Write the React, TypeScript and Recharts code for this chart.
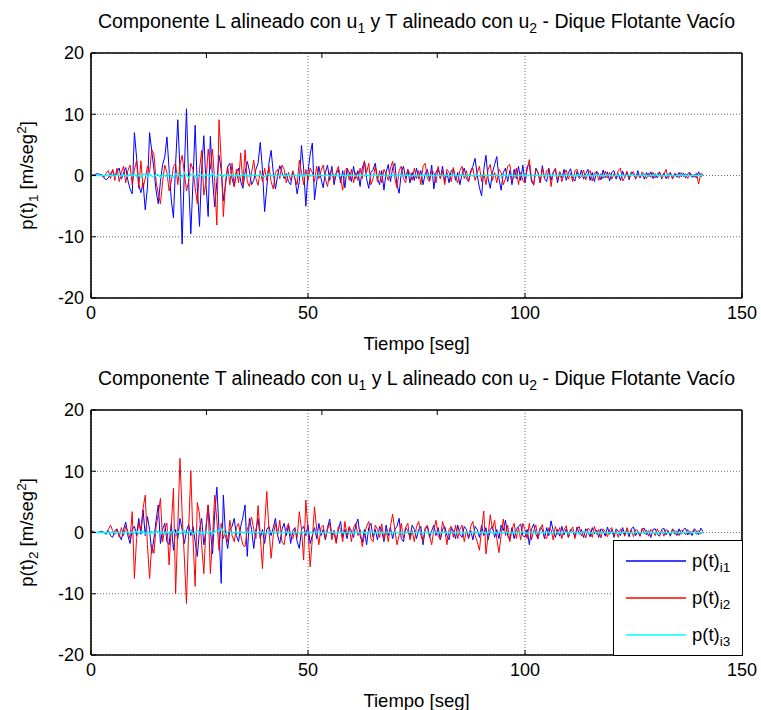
import { LineChart, Line, XAxis, YAxis, CartesianGrid, Legend, Label } from 'recharts';

const FONT = '"Liberation Sans", Arial, Helvetica, sans-serif';

// sampling step of the records, in seconds
const STEP = 0.5;

const CHART_W = 761;
const CHART_H = 355;
const LEFT = 31;
const Y_AXIS_W = 60;
const RIGHT = 18;
const PLOT_W = CHART_W - LEFT - Y_AXIS_W - RIGHT - 1;

const X_TICKS = [0, 50, 100, 150];
const Y_TICKS = [-20, -10, 0, 10, 20];

const SERIES_SUBS = ['i1', 'i2', 'i3'];
const SERIES_COLORS = ['#0000ff', '#ff0000', '#00ffff'];

// p(t)_1 : L aligned with u1, T aligned with u2
const TOP_I1 = [
  0, 0.1, 0.2, 0.3, 0.2, 0, -0.4, -0.7, -0.4, 0.3, 0.8, -0.2, 0.6, 1.2, -0.6, 0.4, 1.3, -0.8, -2.2, -3.0,
  7.0, 3.0, -1.5, -2.8, -1.2, -5.6, -2.0, 7.0, 4.0, 1.0, -2.5, -4.6, -1.0, 1.8, 3.0, 6.3, 1.0, -4.0, -6.9, 2.0,
  9.1, 1.0, -11.2, 0.5, 10.9, -1.0, -9.5, -1.0, 8.2, -2.0, -8.3, 1.0, 6.5, -1.5, -6.7, 6.4, -0.5, -5.1, -1.0, 3.3,
  1.0, -4.1, -1.5, 1.5, 2.0, -0.5, -1.8, 0.5, 1.2, -1.0, -2.1, 0.5, 2.3, 0.8, -1.5, -0.8, 1.0, 2.0, 5.4, 1.0,
  -5.9, -2.0, 2.0, 4.1, 0.5, -2.2, 0, 1.6, 0.5, -0.5, 0.3, -1.0, -1.5, 0.5, -0.5, -3.0, -1.0, 4.9, 1.0, -5.0,
  0.5, 3.5, 5.3, -4.0, -1.0, 1.5, -0.5, -2.0, 0.5, 1.7, -0.8, 1.5, -1.5, 0.3, 1.0, -1.2, 0.8, -2.0, 1.2, 0.5,
  -1.0, 1.5, -0.5, 0.8, -1.8, 1.2, 2.3, -0.5, -2.1, 0.5, 1.0, 2.0, -0.5, -1.5, 0.8, -2.4, 0.5, 1.8, -1.0, 1.2,
  2.0, -1.5, -2.9, 0.5, 1.5, -0.5, 1.0, -1.2, 0.5, -0.8, 1.2, -0.5, 0.8, -1.5, 0.3, 1.0, -0.8, 1.7, -2.2, 0.5,
  1.2, -0.5, 1.5, -1.0, 0.5, -1.2, 0.8, 1.0, -0.8, 0.5, -1.5, 0.3, 1.2, -0.5, -1.0, 0.8, 1.5, 2.8, 0, -2.0,
  -3.3, 1.0, 3.3, -0.5, -2.1, 0.5, 1.8, 3.1, -0.5, -2.4, 0.5, 1.2, -1.0, 0.8, -1.5, 1.0, -0.5, 1.5, -0.8, 1.7,
  -1.2, 1.5, 1.8, -1.0, -1.5, 1.2, 0.5, -1.2, 1.6, -0.5, -1.0, 1.2, -0.8, 0.5, 1.0, -1.2, 0.6, -0.4, 1.0, -0.8,
  0.4, 1.1, -0.5, -0.9, 0.7, -0.3, 0.9, -0.6, 0.3, 1.0, -0.8, 0.5, -1.0, 0.7, 0.2, -0.7, 0.9, -0.4, 0.6, -0.9,
  0.5, 0.8, -0.6, 0.3, -0.8, 0.7, -0.3, 0.5, -0.7, 0.6, 0.2, -0.5, 0.8, -0.4, 0.3, -0.6, 0.5, -0.2, 0.6, -0.5,
  0.3, -0.4, 0.6, -0.3, 0.4, -0.5, 0.2, 0.5, -0.4, 0.3, -0.3, 0.5, -0.2, 0.4, -0.4, 0.3, 0.5, -0.3, 0.2, -0.4,
  0.6, -0.2, 0.1,
];

const TOP_I2 = [
  0, 0, 0.1, 0, 0, 0.2, -0.3, 0.4, 0.8, -0.5, 1.0, -0.8, 1.2, -1.0, 0.5, 1.5, -1.2, 0.8, 1.7, -1.5,
  1.0, 2.4, -2.1, 2.4, -2.0, -0.5, 1.5, 0.5, 4.2, 3.5, -1.0, -3.0, -4.6, -1.0, 1.7, 0.5, -2.5, -1.0, 1.5, 2.0,
  -1.5, 1.8, 3.3, 0.5, -2.5, -1.0, 2.0, 1.0, -2.0, -4.6, 1.0, 4.1, -3.2, -1.0, 4.3, 1.0, 4.3, -1.0, -8.1, 9.1,
  2.5, -6.7, -1.0, 1.5, -1.5, 2.0, -1.8, 1.0, -1.2, 3.7, -1.5, 4.2, -1.0, -1.8, 0.5, 2.5, -0.5, -1.6, 0.8, -1.0,
  1.2, -0.8, 1.5, -1.0, -2.2, 0.5, 1.0, -0.5, 1.7, 1.0, -1.2, 0.5, -0.8, 0.8, -0.5, -1.5, 2.5, 0.5, -1.5, 1.0,
  -0.8, 1.2, 0.5, -1.0, 1.5, -0.5, 0.8, 1.7, -0.5, -1.8, 0.5, 1.0, -0.8, 0.5, 1.5, -0.5, -2.4, 0.8, 1.2, -0.8,
  1.0, -1.2, 0.5, -0.8, 1.2, -0.5, 2.4, 0.5, 2.0, -1.5, -0.5, 1.5, -1.0, 0.8, -1.2, 1.0, 0.3, -0.8, 1.2, 2.3,
  -0.5, -2.0, 0.8, 1.5, -0.5, -1.2, 1.0, 0.3, -0.8, 1.2, -0.5, 0.8, -1.5, 1.5, 2.0, -0.5, -1.0, 0.8, 0.5, -1.2,
  1.5, -0.5, 0.8, -1.5, 1.0, 0.5, -1.0, 1.3, -0.4, -1.2, 0.8, 1.5, -0.5, 0.8, -1.0, 0.5, 1.2, -0.8, 0.5, 1.5,
  -1.0, 0.5, -1.5, 1.0, 1.8, -0.8, 0.5, -1.2, 1.0, 0.5, -1.5, -0.5, 1.5, 1.8, -0.8, -0.3, 1.2, -1.5, 0.5, -0.8,
  -1.2, 1.0, 2.6, -0.5, -1.6, 1.0, 0.5, -1.2, 1.2, -0.5, 0.8, 1.0, -1.8, 0.5, 1.2, -0.8, 0.6, -1.0, 0.3, 0.9,
  -0.6, 0.4, -1.0, 0.8, 1.0, -0.5, -0.2, 0.9, -0.7, 0.3, 0.8, -0.9, 0.4, 0.6, -0.8, 0.3, -0.5, 0.7, -0.4, 0.5,
  -0.6, 0.3, -0.4, 0.8, 1.2, -0.9, -0.3, 0.7, -0.5, 0.4, 0.6, -0.6, 0.2, -0.4, 0.6, 0.2, -0.5, 0.4, -0.3, 0.5,
  -0.4, 0.3, 0.5, -0.6, 0.2, 1.0, -0.5, 0.4, -0.6, 0.3, 0.2, -0.4, 0.5, -0.2, 0.3, -0.5, 0.4, 0.1, -0.3, 0.4,
  -1.4, 0.3, 0.2,
];

const TOP_I3 = [
  0, 0, 0, 0, 0, 0, 0, 0, 0.1, 0, 0.1, -0.1, 0.1, 0, -0.1, 0.1, 0, -0.1, 0.2, -0.1,
  0.3, -0.2, 0.1, -0.3, 0.2, 0.1, -0.2, 0.3, -0.1, -0.2, 0.2, 0.1, -0.3, 0.2, 0, -0.2, 0.3, -0.1, -0.3, 0.2,
  0.4, -0.3, -0.2, 0.4, 0.1, -0.4, 0.2, 0.3, -0.3, -0.1, 0.3, 0.1, -0.3, 0.2, 0.1, -0.2, 0.3, -0.1, -0.2, 0.2,
  0.1, -0.2, 0.2, 0, -0.1, 0.2, -0.2, 0.1, 0, -0.1, 0.2, -0.1, 0.1, -0.2, 0.1, 0, 0.1, -0.1, 0.2, -0.1,
  -0.2, 0.1, 0.2, -0.1, 0, 0.1, -0.1, 0, 0.1, -0.1, 0, 0.1, -0.1, 0, 0.1, -0.1, 0.1, 0, -0.2, 0.2,
  0.1, -0.1, 0, 0.1, -0.1, 0, 0.1, -0.1, 0, 0.1, -0.1, 0, 0.1, 0, -0.1, 0, 0.1, -0.1, 0, 0.1,
  0, 0.1, -0.1, 0, 0.1, 0, -0.1, 0.1, 0, -0.1, 0, 0.1, 0, -0.1, 0.1, 0, -0.1, 0, 0.1, 0,
  -0.1, 0, 0.1, 0, -0.1, 0.1, 0, 0, -0.1, 0.1, 0, -0.1, 0, 0.1, 0, -0.1, 0.1, 0, 0, -0.1,
  0.1, 0, -0.1, 0, 0.1, -0.1, 0, 0.1, 0, -0.1, 0.1, 0, 0, -0.1, 0.1, 0, -0.1, 0, 0.1, -0.1,
  0.1, 0.1, -0.1, 0, 0.1, 0, -0.1, 0.1, 0, -0.1, 0, 0.1, -0.1, 0, 0.1, 0, -0.1, 0, 0.1, 0,
  -0.1, 0.1, 0, -0.1, 0, 0.1, 0, -0.1, 0.1, 0, 0, -0.1, 0.1, 0, -0.1, 0, 0.1, 0, -0.1, 0,
  0.1, 0, -0.1, 0, 0.1, 0, 0, -0.1, 0, 0.1, 0, -0.1, 0, 0.1, 0, 0, -0.1, 0, 0.1, 0,
  0, -0.1, 0, 0.1, 0, 0, -0.1, 0, 0.1, 0, 0, 0, -0.1, 0, 0.1, 0, 0, -0.1, 0, 0,
  0.1, 0, 0, -0.1, 0, 0, 0.1, 0, 0, -0.1, 0, 0, 0.1, 0, 0, 0, -0.1, 0, 0, 0,
  0, 0, 0,
];

// p(t)_2 : T aligned with u1, L aligned with u2
const BOT_I1 = [
  0.1, 0.1, 0, 0, 0.1, 0.2, 0, -0.3, 0.3, -0.5, -0.8, 0.3, 0.6, -0.4, -1.2, 0.5, 1.7, -0.5, -1.8, 0.5,
  1.0, -0.5, 2.3, -0.3, 3.7, -0.5, 2.6, 0.5, -3.4, -1.0, 2.0, 4.5, -1.8, 0.5, 1.5, -1.5, -2.0, 1.5, -2.9, 0.5,
  -1.0, 2.3, 0.5, -1.8, 0.3, 1.3, -0.5, 1.0, -1.5, -3.9, 0.5, 2.3, -2.0, 0.5, 4.5, 0.5, -3.5, 3.0, 7.4, 0.5,
  -8.3, 6.1, -0.5, -2.6, 0.5, 1.0, 2.3, -0.5, -1.5, 1.0, 2.5, 4.5, -3.9, 2.3, 0.5, -2.6, 0.5, 2.3, -1.0, 0.5,
  -1.8, 0.5, 1.0, -0.5, 0.8, 2.3, -0.5, -1.8, 0.5, 1.5, -0.5, 1.2, -1.8, 0.3, 0.8, -1.5, -2.6, 0.5, 1.0, -0.5,
  1.2, -1.8, -0.5, 0.8, -1.0, 1.5, -0.5, 0.5, -1.2, 0.8, 2.2, -0.5, 0.3, -1.6, 0.5, 1.8, -0.8, 0.5, -1.0, 0.8,
  0.3, -0.8, 1.2, 2.2, -0.5, -1.6, 0.5, -2.0, 0.8, 1.5, -0.8, 0.5, -1.2, 1.0, 0.3, -1.5, 1.2, -0.5, 0.8, -1.0,
  0.5, 1.0, 2.3, -1.0, -1.5, 0.8, 0.3, -0.8, 1.2, 0.5, -1.0, 0.5, 1.0, -2.0, 0.5, 1.0, -0.8, 0.3, 1.2, -0.5,
  0.8, -1.2, 0.5, 1.0, -0.5, -1.2, 0.8, 0.3, -1.0, 1.2, -0.3, -0.8, 1.0, 0.5, -1.0, 0.3, -1.2, 1.0, 0.5, -0.8,
  1.2, -0.5, 0.8, -1.2, 0.5, 1.0, -0.8, 0.5, -1.0, 1.2, 0.3, 2.0, -0.5, -1.2, 0.8, -1.0, 0.5, 1.0, 1.4, -0.5,
  -0.8, 0.5, -2.0, 0.5, 1.4, -0.3, -1.0, 0.8, 0.5, -1.0, 0.8, -0.5, 1.9, 0.3, -0.8, 0.5, -0.6, 1.0, -0.4, 0.6,
  -0.8, 0.5, 0.2, -0.6, 0.9, -0.3, 0.5, -0.8, 0.6, 0.1, -0.7, 0.8, -0.2, 0.4, -0.8, 0.6, 0.3, -0.6, 0.9, -0.3,
  0.5, -0.8, 0.6, 0.2, -0.5, 0.8, -0.4, 0.3, -0.7, 0.6, 0.9, -0.5, 0.2, -0.6, 0.5, 0.7, -0.4, 0.3, -0.8, 0.5,
  0.6, -0.3, -0.6, 0.5, 0.7, -0.4, 0.3, -0.6, 0.6, 0.2, -0.5, 0.6, -0.3, 0.5, 0.7, -0.4, 0.2, -0.5, 0.6, 0.3,
  -0.4, 0.7, 0.2,
];

const BOT_I2 = [
  0.3, 0.2, 0, 0, 0, 0, 0, 0, 0.5, 1.2, 0.3, -0.3, 0.5, -0.8, 0.8, -0.5, 1.0, 0.2, -1.0, 3.4,
  -7.5, -1.0, 1.5, 0.5, 4.0, 6.1, -2.0, -7.5, -2.0, -3.4, 1.0, 3.0, 5.6, -1.5, 0.5, 1.5, -5.3, 1.0, 7.2, -10.0,
  1.0, 12.1, 3.0, -4.0, -11.6, 0.5, 10.1, -1.0, -8.8, 4.9, 3.0, -2.0, -6.7, 1.0, 4.5, -6.7, -1.0, 6.1, 2.0, -2.9,
  1.5, -1.0, 0.5, -1.5, 2.0, -0.5, -1.5, 0.8, 1.5, -0.5, -2.0, -2.3, 0.5, 1.5, 2.5, 0.5, -1.0, 4.4, -0.5, -5.9,
  1.0, 6.7, 0.5, -4.2, -0.5, 1.5, -0.5, 2.0, -1.5, -2.0, 0.5, 1.5, -0.5, -1.0, 0.5, -0.8, 3.4, 0.5, -4.5, 5.3,
  0.5, -5.6, -1.0, 4.2, 0.5, -2.0, 0.8, 1.2, -1.0, 0.5, 1.5, -1.2, 0.3, -1.8, 1.0, 0.5, -1.5, 1.8, -0.5, 1.0,
  -1.5, 0.8, 1.5, -0.5, 0.5, -2.3, -0.5, 1.0, 1.8, -1.0, -1.5, 1.2, 0.5, -0.8, 1.4, -1.2, 0.5, -1.5, 1.0, 3.0,
  0.5, -2.0, -0.5, 1.5, -1.0, 0.8, 1.5, -1.2, 0.3, -1.5, 1.0, 1.8, -0.5, -1.5, 0.8, 1.2, -0.5, -2.0, 0.5, 2.0,
  -0.5, -1.2, 1.8, 0.5, -2.0, 0.5, 1.0, -0.8, 1.2, -1.0, 0.5, 1.2, -1.5, 0.3, -0.8, 1.0, 1.8, -0.5, -1.5, -2.9,
  0.5, 3.5, -3.5, -0.5, 2.9, 0.5, 2.0, -1.0, -3.3, -0.5, 2.2, -0.5, 1.2, -1.5, 0.5, 1.5, -1.0, 0.8, -1.2, 1.5,
  0.5, -1.0, 1.5, -1.2, 0.3, 1.2, -1.0, 0.5, 1.3, -0.8, -1.0, 0.8, 0.5, -1.2, 1.0, -0.3, 0.8, -1.0, 0.5, 1.1,
  -0.8, 0.3, 0.9, -1.0, 0.5, 1.0, -0.6, 0.2, -0.9, 0.7, 0.4, -0.8, 1.0, -0.3, 0.5, -0.9, 0.6, 0.2, -0.7, 0.5,
  0.8, -0.5, 0.3, -0.8, 0.6, 0.2, -0.6, 0.8, -0.3, 0.4, -0.7, 0.5, 0.3, -0.6, 0.7, -0.2, 0.4, -0.6, 0.5, 0.1,
  -0.5, 0.6, -0.2, 0.4, -0.6, 0.5, 0.2, -0.4, 0.5, -0.3, 0.3, -0.5, 0.4, 0.1, -0.4, 0.5, -0.3, 0.2, 0.4, -0.3,
  0.3, -0.2, 0.1,
];

const BOT_I3 = [
  0, 0, 0, 0, 0, 0, 0, 0, 0, 0, 0.1, 0, -0.1, 0.1, 0, -0.1, 0.1, 0, -0.1, 0.1,
  -0.1, 0.2, -0.2, 0.1, 0.2, -0.2, 0.1, -0.1, 0.2, -0.2, 0.1, 0.2, -0.2, 0.1, -0.1, 0.2, -0.3, 0.1, 0.2, -0.2,
  0.2, -0.2, 0.1, 0.3, -0.3, 0.1, 0.2, -0.2, -0.1, 0.2, 0.1, -0.2, 0.2, 0, -0.1, 0.2, -0.2, 0.1, 0.3, 0.2,
  0.7, 0.2, -0.3, 0.1, 0.2, -0.1, 0, 0.1, -0.1, 0.1, 0, -0.1, 0.1, 0, -0.1, 0.1, 0, -0.1, 0.1, 0,
  0.1, -0.1, 0, 0.1, 0, -0.1, 0.1, 0, -0.1, 0, 0.1, 0, -0.1, 0.1, 0, 0, -0.1, 0.1, 0, -0.1,
  0, 0.1, -0.1, 0, 0.1, 0, -0.1, 0, 0.1, -0.1, 0, 0.1, 0, -0.1, 0, 0.1, 0, -0.1, 0.1, 0,
  -0.1, 0, 0.1, 0, -0.1, 0.1, 0, -0.1, 0, 0.1, 0, -0.1, 0.1, 0, 0, -0.1, 0.1, 0, -0.1, 0,
  0.1, 0, -0.1, 0.1, 0, -0.1, 0, 0.1, 0, -0.1, 0.1, 0, 0, -0.1, 0.1, 0, -0.1, 0, 0.1, 0,
  0, -0.1, 0.1, 0, -0.1, 0, 0.1, 0, -0.1, 0.1, 0, 0, -0.1, 0.1, 0, -0.1, 0, 0.1, 0, -0.1,
  0.1, 0, -0.1, 0, 0.1, 0, 0, -0.1, 0.1, 0, -0.1, 0.1, 0, 0, -0.1, 0.1, 0, -0.1, 0, 0.1,
  0, -0.1, 0, 0.1, 0, -0.1, 0.1, 0, 0, -0.1, 0.1, 0, -0.1, 0, 0.1, 0, 0, -0.1, 0.1, 0,
  -0.1, 0, 0.1, 0, 0, -0.1, 0, 0.1, 0, 0, -0.1, 0, 0.1, 0, -0.1, 0, 0, 0.1, 0, -0.1,
  0, 0.1, 0, 0, -0.1, 0, 0.1, 0, 0, -0.1, 0, 0, 0.1, 0, -0.1, 0, 0, 0.1, 0, 0,
  -0.1, 0, 0, 0.1, 0, 0, -0.1, 0, 0, 0.1, 0, 0, -0.1, 0, 0, 0.1, 0, 0, 0, 0,
  0, 0, 0,
];

const buildRows = (i1: number[], i2: number[], i3: number[]) =>
  i1.map((v, i) => ({ t: i * STEP, i1: v, i2: i2[i], i3: i3[i] }));

const TOP_DATA = buildRows(TOP_I1, TOP_I2, TOP_I3);
const BOT_DATA = buildRows(BOT_I1, BOT_I2, BOT_I3);

const tickStyle = { fill: '#000', fontSize: 18, fontFamily: FONT };
const boxLine = { stroke: '#000', strokeWidth: 1.6 };

// mirrored axes only carry tick marks, no numbers
const blankTick = () => <g />;

// y label on the left plus the panel title above the plot, both hung off the YAxis box
const renderYLabel = (sub: string, first: string, second: string) => ({ viewBox }: any) => {
  const cx = viewBox.x + 2;
  const cy = viewBox.y + viewBox.height / 2;
  const tx = viewBox.x + viewBox.width + PLOT_W / 2;
  const ty = viewBox.y - 25;
  return (
    <g>
      <text
        x={cx}
        y={cy}
        transform={`rotate(-90 ${cx} ${cy})`}
        textAnchor="middle"
        fontSize={18.5}
        fontFamily={FONT}
        fill="#000"
      >
        p(t)
        <tspan dy={5} fontSize={13.5}>{sub}</tspan>
        <tspan dy={-5}>{' [m/seg'}</tspan>
        <tspan dy={-7} fontSize={13.5}>2</tspan>
        <tspan dy={7}>]</tspan>
      </text>
      <text x={tx} y={ty} textAnchor="middle" fontSize={19.5} fontFamily={FONT} fill="#000">
        {`Componente ${first} alineado con u`}
        <tspan dy={5} fontSize={14}>1</tspan>
        <tspan dy={-5}>{` y ${second} alineado con u`}</tspan>
        <tspan dy={5} fontSize={14}>2</tspan>
        <tspan dy={-5}>{' - Dique Flotante Vacío'}</tspan>
      </text>
    </g>
  );
};

const renderXLabel = ({ viewBox }: any) => (
  <text
    x={viewBox.x + viewBox.width / 2}
    y={viewBox.y + 52}
    textAnchor="middle"
    fontSize={18.5}
    fontFamily={FONT}
    fill="#000"
  >
    Tiempo [seg]
  </text>
);

const renderLegend = ({ payload }: any) => (
  <svg width={130} height={116} style={{ display: 'block' }}>
    <rect x={0.5} y={0.5} width={129} height={115} fill="#fff" stroke="#000" />
    {(payload || []).map((entry: any, i: number) => {
      const cy = 21 + i * 37;
      return (
        <g key={entry.value}>
          <line x1={13} x2={73} y1={cy} y2={cy} stroke={entry.color} strokeWidth={1.3} />
          <text x={79} y={cy + 6} fontSize={18.5} fontFamily={FONT} fill="#000">
            p(t)
            <tspan dy={5} fontSize={13.5}>{entry.value}</tspan>
          </text>
        </g>
      );
    })}
  </svg>
);

type PanelProps = {
  data: any[];
  top: number;
  axisHeight: number;
  title: [string, string];
  sub: string;
  withLegend?: boolean;
};

const Panel = ({ data, top, axisHeight, title, sub, withLegend }: PanelProps) => (
  <LineChart
    width={CHART_W}
    height={CHART_H}
    data={data}
    margin={{ top: top - 1, right: RIGHT, bottom: 0, left: LEFT }}
  >
    <CartesianGrid stroke="#6e6e6e" strokeDasharray="1 2" />
    <XAxis
      dataKey="t"
      type="number"
      domain={[0, 150]}
      ticks={X_TICKS}
      interval={0}
      height={axisHeight}
      axisLine={boxLine}
      tickLine={{ stroke: '#000' }}
      tickSize={-5}
      tickMargin={13}
      tick={tickStyle}
      allowDataOverflow
    >
      <Label content={renderXLabel} />
    </XAxis>
    <XAxis
      xAxisId="top"
      orientation="top"
      type="number"
      domain={[0, 150]}
      ticks={X_TICKS}
      interval={0}
      height={1}
      axisLine={boxLine}
      tickLine={{ stroke: '#000' }}
      tickSize={-5}
      tickMargin={0}
      tick={blankTick}
    />
    <YAxis
      type="number"
      domain={[-20, 20]}
      ticks={Y_TICKS}
      interval={0}
      width={Y_AXIS_W}
      axisLine={boxLine}
      tickLine={{ stroke: '#000' }}
      tickSize={-5}
      tickMargin={12}
      tick={tickStyle}
      allowDataOverflow
    >
      <Label content={renderYLabel(sub, title[0], title[1])} />
    </YAxis>
    <YAxis
      yAxisId="right"
      orientation="right"
      type="number"
      domain={[-20, 20]}
      ticks={Y_TICKS}
      interval={0}
      width={1}
      axisLine={boxLine}
      tickLine={{ stroke: '#000' }}
      tickSize={-5}
      tickMargin={0}
      tick={blankTick}
    />
    <Line dataKey="i1" name={SERIES_SUBS[0]} type="linear" stroke={SERIES_COLORS[0]} strokeWidth={1} dot={false} isAnimationActive={false} />
    <Line dataKey="i2" name={SERIES_SUBS[1]} type="linear" stroke={SERIES_COLORS[1]} strokeWidth={1} dot={false} isAnimationActive={false} />
    <Line dataKey="i3" name={SERIES_SUBS[2]} type="linear" stroke={SERIES_COLORS[2]} strokeWidth={1.4} dot={false} isAnimationActive={false} />
    {withLegend && (
      <Legend
        layout="horizontal"
        align="center"
        verticalAlign="middle"
        content={renderLegend}
        wrapperStyle={{ left: 613, top: 185, width: 130, height: 116 }}
      />
    )}
  </LineChart>
);

export default function App() {
  return (
    <div style={{ position: 'absolute', left: 0, top: 0, width: CHART_W, height: 2 * CHART_H, background: '#fff' }}>
      <Panel data={TOP_DATA} top={53} axisHeight={57} title={['L', 'T']} sub="1" />
      <Panel data={BOT_DATA} top={55} axisHeight={55} title={['T', 'L']} sub="2" withLegend />
    </div>
  );
}
